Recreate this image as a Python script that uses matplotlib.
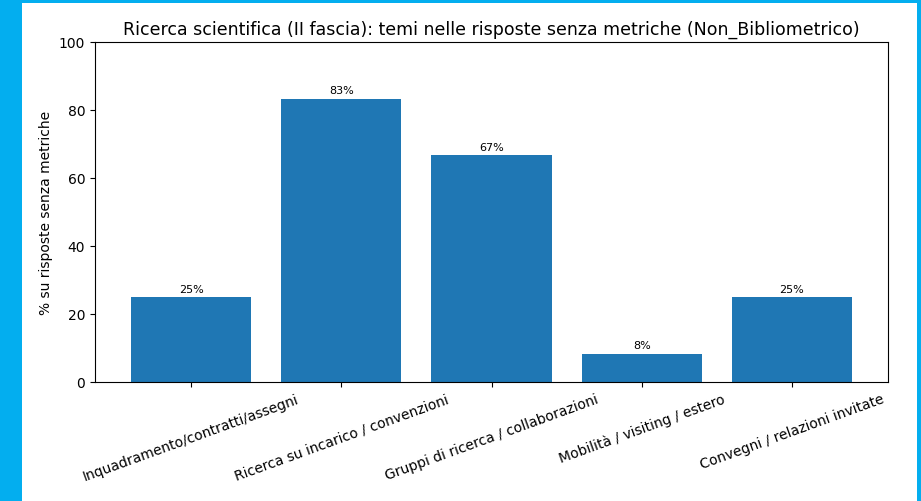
import matplotlib.pyplot as plt
from matplotlib.patches import Rectangle

# Dati: temi nelle risposte senza metriche
temi = ['Inquadramento/contratti/assegni', 'Ricerca su incarico / convenzioni',
        'Gruppi di ricerca / collaborazioni', 'Mobilità / visiting / estero',
        'Convegni / relazioni invitate']
percentuali = [25.0, 83.33, 66.67, 8.33, 25.0]
etichette = ['25%', '83%', '67%', '8%', '25%']

fig = plt.figure(figsize=(9.21, 5.02), dpi=100)
fig.patch.set_facecolor('#03AEEF')
# riquadro bianco dentro la cornice blu
fig.patches.append(Rectangle((22 / 921, 0), (917 - 22) / 921, 498 / 502,
                             transform=fig.transFigure, facecolor='white',
                             edgecolor='none', zorder=-1))

ax = fig.add_axes([95 / 921, 1 - 383 / 502, (888 - 95) / 921, (383 - 43) / 502])
x = range(len(temi))
bars = ax.bar(x, percentuali, color='#1f77b4', width=0.8)
for b, lab in zip(bars, etichette):
    ax.text(b.get_x() + b.get_width() / 2, b.get_height() + 1, lab,
            ha='center', va='bottom', fontsize=8)

ax.set_ylim(0, 100)
ax.set_xticks(list(x))
ax.set_xticklabels(temi, rotation=20, ha='center')
ax.set_ylabel('% su risposte senza metriche')
ax.set_title('Ricerca scientifica (II fascia): temi nelle risposte senza metriche (Non_Bibliometrico)',
             fontsize=12.5)

plt.savefig('out.png', dpi=100, facecolor=fig.get_facecolor())
plt.close()
